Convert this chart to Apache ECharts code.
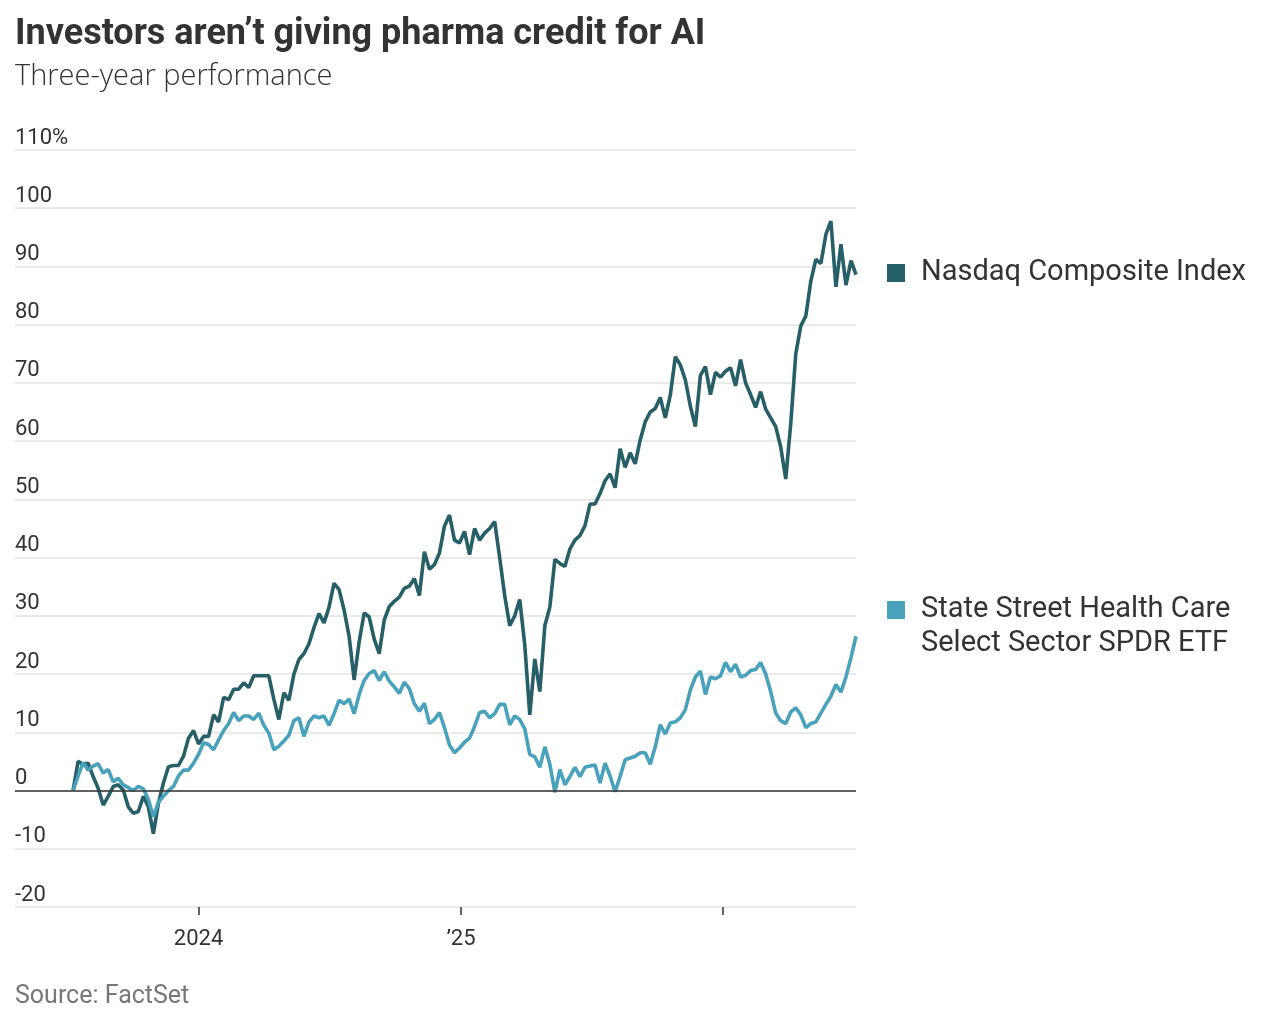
<!DOCTYPE html>
<html>
<head>
<meta charset="utf-8">
<title>Investors aren’t giving pharma credit for AI</title>
<script src="https://cdn.jsdelivr.net/npm/echarts@6/dist/echarts.min.js"></script>
<style>
  html, body { margin: 0; padding: 0; background: #fff; }
  #chart { width: 1272px; height: 1018px; }
</style>
</head>
<body>
<div id="chart"></div>
<script>
// weekly closes, % change since the first week
const START_WEEK = '2023-07-10'
const AXIS_START = '2023-04-20'   // left edge of the plot, where the gridlines begin
const nasdaq = [
  0, 5.0, 4.5, 4.7, 2.4, 0.4, -2.5, -1.0, 0.7, 1.0,
  0.1, -2.8, -3.9, -3.6, -1.0, -2.8, -7.4, -2.2, 1.3, 4.1,
  4.3, 4.3, 5.9, 9.0, 10.3, 8.0, 9.3, 9.3, 13.0, 11.8,
  16.0, 15.6, 17.4, 17.4, 18.5, 17.7, 19.7, 19.7, 19.7, 19.7,
  15.7, 12.2, 16.8, 15.5, 20.0, 22.5, 23.5, 25.2, 28.0, 30.4,
  28.8, 31.5, 35.6, 34.5, 31.0, 26.5, 19.0, 25.5, 30.5, 29.8,
  26.0, 23.5, 29.3, 31.6, 32.5, 33.2, 34.7, 35.1, 36.4, 33.5,
  41.0, 38.0, 38.8, 40.8, 45.4, 47.3, 43.0, 42.5, 44.5, 40.5,
  45.0, 43.0, 44.2, 45.0, 46.2, 40.0, 33.5, 28.3, 30.0, 32.8,
  25.0, 13.0, 22.6, 17.0, 28.3, 31.5, 39.7, 39.0, 38.5, 41.5,
  43.0, 43.8, 45.5, 49.2, 49.2, 51.0, 53.2, 54.4, 52.0, 58.7,
  55.5, 58.0, 56.1, 60.2, 63.3, 65.0, 65.6, 67.5, 64.0, 67.9,
  74.5, 73.1, 70.5, 66.0, 62.5, 71.3, 72.8, 68.0, 71.8, 71.0,
  72.0, 72.6, 69.5, 74.0, 70.0, 68.0, 65.8, 68.5, 65.5, 64.0,
  62.5, 59.0, 53.5, 63.0, 75.0, 79.8, 81.5, 87.5, 91.2, 90.5,
  95.5, 97.8, 86.5, 93.8, 86.8, 91.0, 88.6
]
const healthCare = [
  0, 2.5, 4.8, 3.5, 4.2, 4.6, 3.0, 3.6, 1.5, 2.1,
  1.0, 0.5, 0.0, 0.7, 0.3, -1.5, -4.5, -2.0, -1.0, 0.0,
  0.7, 2.5, 3.5, 3.5, 4.7, 6.2, 8.2, 7.9, 7.0, 8.7,
  10.3, 11.5, 13.4, 12.0, 12.8, 12.8, 12.2, 13.3, 11.2, 9.9,
  7.0, 7.6, 8.5, 9.5, 12.0, 12.5, 9.3, 11.8, 12.8, 12.5,
  12.8, 11.2, 13.2, 15.5, 14.9, 15.7, 13.2, 16.5, 18.9, 20.1,
  20.6, 18.9, 20.4, 18.8, 17.8, 16.7, 18.6, 17.5, 14.9, 13.6,
  15.0, 11.5, 12.2, 13.4, 10.8, 7.8, 6.5, 7.3, 8.3, 9.0,
  11.0, 13.4, 13.6, 12.5, 13.2, 14.8, 14.8, 11.3, 12.8, 12.2,
  10.6, 6.2, 5.8, 4.0, 7.5, 4.5, -0.3, 3.6, 1.0, 2.4,
  4.0, 2.4, 4.0, 4.2, 4.4, 1.3, 4.7, 2.5, -0.2, 2.4,
  5.3, 5.6, 5.9, 6.5, 6.5, 4.5, 7.5, 11.3, 9.7, 11.6,
  11.8, 12.5, 13.9, 17.3, 19.5, 20.5, 16.5, 19.5, 19.2, 19.7,
  22.0, 20.4, 21.7, 19.5, 19.8, 20.6, 20.8, 22.0, 20.0, 17.0,
  13.3, 12.0, 11.5, 13.5, 14.2, 13.0, 10.8, 11.5, 11.8, 13.3,
  14.8, 16.2, 18.2, 16.9, 19.5, 22.8, 26.5
]
const yearTicks = ['2024-01-01', '2025-01-01', '2026-01-01']
const yearLabels = ['2024', '’25', '']
const yTicks = { min: -20, max: 110, step: 10 }

const DARK = '#265f68'
const LIGHT = '#49a2bc'
const INK = '#333333'
const GRID_LINE = '#e3e3e3'
const SANS = '"Roboto", "Noto Sans", sans-serif'
const WIDE = '"Open Sans", "Noto Sans", sans-serif'

// x is measured in days from the left edge of the plot
const DAY = 86400000
const dayOf = d => Math.round((Date.parse(d + 'T00:00:00Z') - Date.parse(AXIS_START + 'T00:00:00Z')) / DAY)
const firstDay = dayOf(START_WEEK)
const weekDays = nasdaq.map((_, i) => firstDay + i * 7)
const tickDays = yearTicks.map(dayOf)

const NAME_N = 'Nasdaq Composite Index'
const NAME_H = 'State Street Health Care Select Sector SPDR ETF'

const chart = echarts.init(document.getElementById('chart'), null, { renderer: 'canvas' })
chart.setOption({
  animation: false,
  textStyle: { fontFamily: SANS },
  title: [
    {
      text: 'Investors aren’t giving pharma credit for AI',
      left: 15, top: 17, padding: 0,
      textStyle: { fontFamily: SANS, fontWeight: 'bold', fontSize: 36, color: INK }
    },
    {
      text: 'Three-year performance',
      left: 15, top: 62, padding: 0,
      textStyle: { fontFamily: WIDE, fontWeight: 300, fontSize: 29, color: INK }
    },
    {
      text: 'Source: FactSet',
      left: 15, top: 984, padding: 0,
      textStyle: { fontFamily: SANS, fontWeight: 'normal', fontSize: 25, color: '#777777' }
    }
  ],
  legend: [
    {
      data: [NAME_N],
      left: 887, top: 256, orient: 'vertical', padding: 0,
      icon: 'rect', itemWidth: 18, itemHeight: 18, itemGap: 0,
      selectedMode: false,
      textStyle: { fontFamily: SANS, fontSize: 29, lineHeight: 34, color: INK, padding: [0, 0, 0, 11] }
    },
    {
      // a blank first line keeps the swatch level with the first line of the name
      data: [NAME_H],
      left: 887, top: 559, orient: 'vertical', padding: 0,
      icon: 'rect', itemWidth: 18, itemHeight: 18, itemGap: 0,
      selectedMode: false,
      formatter: () => '\u00a0\nState Street Health Care\nSelect Sector SPDR ETF',
      textStyle: { fontFamily: SANS, fontSize: 29, lineHeight: 34, color: INK, padding: [0, 0, 0, 11] }
    }
  ],
  grid: { left: 15, right: 416, top: 150, bottom: 111, containLabel: false },
  xAxis: {
    type: 'value',
    min: 0,
    max: weekDays[weekDays.length - 1],
    axisLine: { show: false, onZero: false },
    splitLine: { show: false },
    axisTick: {
      show: true, length: 8, customValues: tickDays,
      lineStyle: { color: INK, width: 1.5 }
    },
    axisLabel: {
      customValues: tickDays,
      margin: 21,
      fontFamily: SANS, fontSize: 22, color: INK,
      formatter: v => yearLabels[tickDays.indexOf(v)] ?? ''
    }
  },
  yAxis: {
    type: 'value',
    min: yTicks.min, max: yTicks.max, interval: yTicks.step,
    axisLine: { show: false },
    axisTick: { show: false },
    splitLine: { lineStyle: { color: GRID_LINE, width: 1.5 } },
    axisLabel: {
      inside: true, margin: 0, verticalAlign: 'bottom',
      padding: [0, 0, 1, 0],
      fontFamily: SANS, fontSize: 22, color: INK,
      formatter: v => (v === yTicks.max ? v + '%' : String(v))
    }
  },
  series: [
    {
      name: NAME_N,
      type: 'line',
      data: weekDays.map((d, i) => [d, nasdaq[i]]),
      showSymbol: false,
      itemStyle: { color: DARK },
      lineStyle: { color: DARK, width: 3.6 },
      z: 3,
      markLine: {
        silent: true, symbol: 'none', label: { show: false },
        lineStyle: { color: INK, width: 1.5, type: 'solid' },
        data: [{ yAxis: 0 }]
      }
    },
    {
      name: NAME_H,
      type: 'line',
      data: weekDays.map((d, i) => [d, healthCare[i]]),
      showSymbol: false,
      itemStyle: { color: LIGHT },
      lineStyle: { color: LIGHT, width: 3.6 },
      z: 4
    }
  ]
})
</script>
</body>
</html>
